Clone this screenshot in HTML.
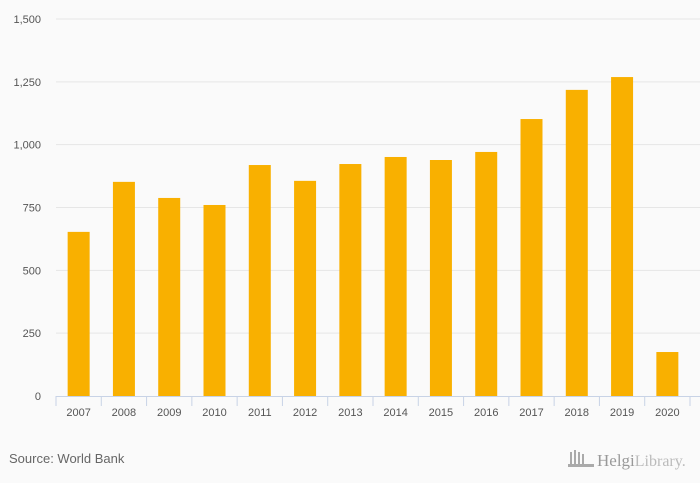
<!DOCTYPE html>
<html><head><meta charset="utf-8"><style>
body{margin:0;background:#fafafa;font-family:"Liberation Sans",sans-serif;}
svg{display:block}
</style></head><body>
<svg width="700" height="483">
<g id="grid"></g><g id="bars"></g><g id="xaxis"></g>
<text x="9" y="463" font-size="13" fill="#666">Source: World Bank</text>
<g>
<rect x="570" y="452" width="2" height="14" fill="#aaa"/><rect x="574" y="450" width="2" height="16" fill="#aaa"/><rect x="578" y="452" width="2" height="14" fill="#aaa"/><rect x="582" y="454" width="2" height="12" fill="#aaa"/><rect x="568" y="464" width="26" height="3" fill="#aaa"/>
<text x="597" y="466" font-size="17" fill="#999" font-family="Liberation Serif,serif">Helgi<tspan font-size="16" fill="#bbb">Library.</tspan></text>
</g>
</svg>
<script>
const categories=["2007","2008","2009","2010","2011","2012","2013","2014","2015","2016","2017","2018","2019","2020"];
const values=[653,852,788,760,919,856,923,951,939,971,1102,1218,1269,175];
const yTicks=[0,250,500,750,1000,1250,1500];
const yTickLabels=["0","250","500","750","1,000","1,250","1,500"];
const NS="http://www.w3.org/2000/svg";
const x0=56,x1=690,yBase=396,yTop=19,yMax=1500;
const step=(x1-x0)/categories.length;
function y(v){return yBase-(yBase-yTop)*v/yMax;}
function xc(i){return x0+step*(i+0.5);}
function mk(t,a,p){const e=document.createElementNS(NS,t);for(const k in a)e.setAttribute(k,a[k]);p.appendChild(e);return e;}
const grid=document.getElementById('grid'),bars=document.getElementById('bars'),xa=document.getElementById('xaxis');
yTicks.forEach((v,i)=>{
 if(v>0){const l=mk('line',{x1:x0,x2:700,y1:y(v),y2:y(v),stroke:'#e6e6e6'},grid);
 
 }
 const t=mk('text',{x:41,y:y(v)+4,'text-anchor':'end','font-size':'11',fill:'#555'},grid);
 t.textContent=yTickLabels[i];
 
 
});
values.forEach((v,i)=>{
 const r=mk('rect',{x:xc(i)-11,y:y(v),width:22,height:yBase-y(v),fill:'#f9b000'},bars);
 
 
});
const ax=mk('line',{x1:x0,x2:x1+10,y1:yBase+0.5,y2:yBase+0.5,stroke:'#c8d3e6'},xa);


for(let i=0;i<=categories.length;i++){
 const tk=mk('line',{x1:x0+step*i,x2:x0+step*i,y1:yBase,y2:yBase+10,stroke:'#c8d3e6'},xa);
 
 
}
categories.forEach((c,i)=>{
 const t=mk('text',{x:xc(i),y:yBase+20,'text-anchor':'middle','font-size':'11',fill:'#555'},xa);
 t.textContent=c;
 
 
});
</script>
</body></html>
